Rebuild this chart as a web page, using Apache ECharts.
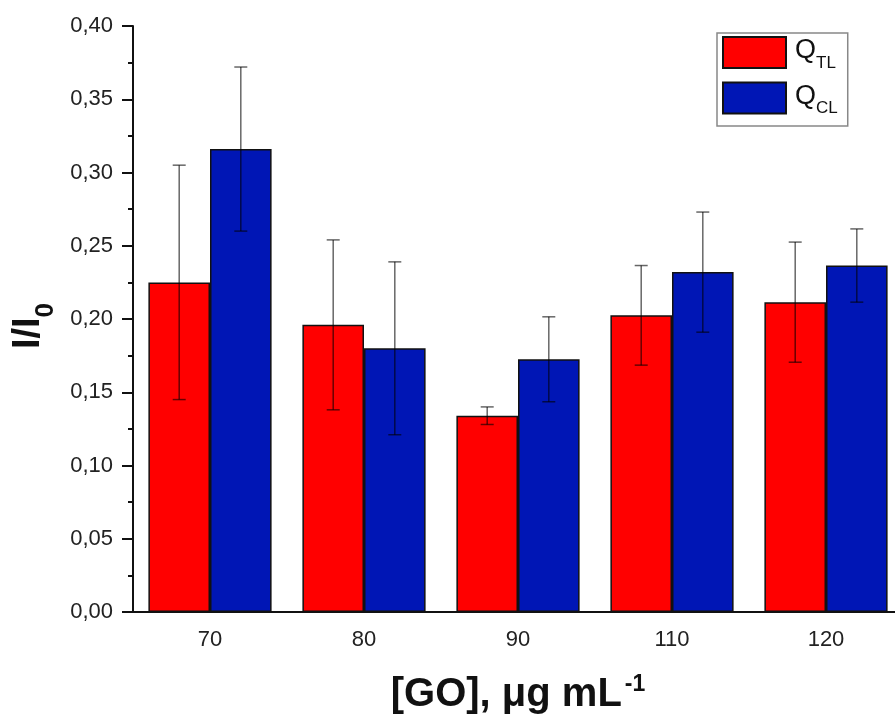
<!DOCTYPE html>
<html>
<head>
<meta charset="utf-8">
<script src="https://cdn.jsdelivr.net/npm/echarts@6/dist/echarts.min.js"></script>
<style>
  html, body { margin: 0; padding: 0; background: #fff; overflow: hidden; width: 895px; height: 720px; }
  /* a little wider than the window: the plot runs past the right edge, as in the reference */
  #chart { width: 910px; height: 720px; }
</style>
</head>
<body>
<div id="chart"></div>
<script>
// [GO] concentrations, ug/mL
const categories = ['70', '80', '90', '110', '120']
// I/I0 values and +/- errors
const qtl = [0.225, 0.196, 0.134, 0.2025, 0.2115]
const qtlErr = [0.080, 0.058, 0.006, 0.034, 0.041]
const qcl = [0.316, 0.180, 0.1725, 0.232, 0.2365]
const qclErr = [0.056, 0.059, 0.029, 0.041, 0.025]
const seriesNames = ['QTL', 'QCL']
const yTicks = [0, 0.05, 0.1, 0.15, 0.2, 0.25, 0.3, 0.35, 0.4]

const barColors = ['#ff0000', '#0016b5']
const catGap = 0.2

function errorItem (offset) {
  return function (params, api) {
    const i = api.value(0)
    const v = api.value(1)
    const e = api.value(2)
    const band = api.size([1, 0])[0]
    const x = api.coord([i, v])[0] + offset * band
    const top = api.coord([i, v + e])[1]
    const bot = api.coord([i, v - e])[1]
    const w = 6.5
    const style = { stroke: 'rgba(0,0,0,0.6)', lineWidth: 1.5 }
    return {
      type: 'group',
      children: [
        { type: 'line', shape: { x1: x, y1: top, x2: x, y2: bot }, style: style },
        { type: 'line', shape: { x1: x - w, y1: top, x2: x + w, y2: top }, style: style },
        { type: 'line', shape: { x1: x - w, y1: bot, x2: x + w, y2: bot }, style: style }
      ]
    }
  }
}

const chart = echarts.init(document.getElementById('chart'))
const halfBar = (1 - catGap) / 4

chart.setOption({
  backgroundColor: '#fff',
  animation: false,
  textStyle: { fontFamily: 'Liberation Sans, Arial, sans-serif' },
  grid: { left: 133, top: 26, right: 7, bottom: 107, containLabel: false },
  legend: {
    data: seriesNames,
    orient: 'vertical',
    left: 717,
    top: 33,
    itemWidth: 63,
    itemHeight: 31,
    itemGap: 10,
    padding: [3, 10, 9, 5],
    borderColor: '#888',
    borderWidth: 1.5,
    borderRadius: 0,
    icon: 'rect',
    formatter: function (name) {
      return '{q|Q}{s|' + name.slice(1) + '}'
    },
    textStyle: {
      color: '#111',
      rich: {
        q: { fontSize: 27, lineHeight: 30, verticalAlign: 'top', color: '#111', padding: [0, 0, 0, 4] },
        s: { fontSize: 17, lineHeight: 17, verticalAlign: 'top', color: '#111', padding: [17, 0, 0, 0] }
      }
    }
  },
  xAxis: [
    {
      type: 'category',
      data: categories,
      boundaryGap: true,
      name: '{a|[GO], μg mL}{b|-1}',
      nameLocation: 'middle',
      nameGap: 61,
      nameTextStyle: {
        rich: {
          a: { fontSize: 40, fontWeight: 'bold', color: '#111', lineHeight: 44, verticalAlign: 'middle' },
          b: { fontSize: 23, fontWeight: 'bold', color: '#111', lineHeight: 23, verticalAlign: 'top', padding: [0, 0, 0, 3] }
        }
      },
      axisLine: { lineStyle: { color: '#111', width: 2 } },
      axisTick: { alignWithLabel: true, length: 10, lineStyle: { color: '#111', width: 2 } },
      axisLabel: { fontSize: 22, color: '#222', margin: 17 },
      splitLine: { show: false }
    },
    {
      type: 'category',
      data: categories,
      boundaryGap: true,
      position: 'bottom',
      axisLine: { show: false },
      axisTick: { alignWithLabel: false, length: 5, lineStyle: { color: '#111', width: 2 } },
      axisLabel: { show: false },
      splitLine: { show: false }
    }
  ],
  yAxis: {
    type: 'value',
    min: yTicks[0],
    max: yTicks[yTicks.length - 1],
    interval: 0.05,
    name: '{a|I/I}{b|0}',
    nameLocation: 'middle',
    nameRotate: 90,
    nameGap: 72,
    nameTextStyle: {
      padding: [0, 14, 0, 0],
      rich: {
        a: { fontSize: 38, fontWeight: 'bold', color: '#111', lineHeight: 38, verticalAlign: 'top' },
        b: { fontSize: 26, fontWeight: 'bold', color: '#111', lineHeight: 26, verticalAlign: 'top', padding: [24, 0, 0, 0] }
      }
    },
    axisLine: { show: true, lineStyle: { color: '#111', width: 2 } },
    axisTick: { show: true, length: 11, lineStyle: { color: '#111', width: 2 } },
    minorTick: { show: true, splitNumber: 2, length: 5, lineStyle: { color: '#111', width: 2 } },
    axisLabel: {
      fontSize: 22,
      color: '#222',
      margin: 20,
      formatter: function (v) { return v.toFixed(2).replace('.', ',') }
    },
    splitLine: { show: false }
  },
  series: [
    {
      name: seriesNames[0],
      type: 'bar',
      data: qtl,
      barGap: '0%',
      barCategoryGap: (catGap * 100) + '%',
      itemStyle: { color: barColors[0], borderColor: '#111', borderWidth: 1.5 }
    },
    {
      name: seriesNames[1],
      type: 'bar',
      data: qcl,
      barGap: '0%',
      barCategoryGap: (catGap * 100) + '%',
      itemStyle: { color: barColors[1], borderColor: '#111', borderWidth: 1.5 }
    },
    {
      type: 'custom',
      renderItem: errorItem(-halfBar),
      data: qtl.map((v, i) => [i, v, qtlErr[i]]),
      encode: { x: 0, y: 1 },
      z: 5
    },
    {
      type: 'custom',
      renderItem: errorItem(halfBar),
      data: qcl.map((v, i) => [i, v, qclErr[i]]),
      encode: { x: 0, y: 1 },
      z: 5
    }
  ]
})
</script>
</body>
</html>
